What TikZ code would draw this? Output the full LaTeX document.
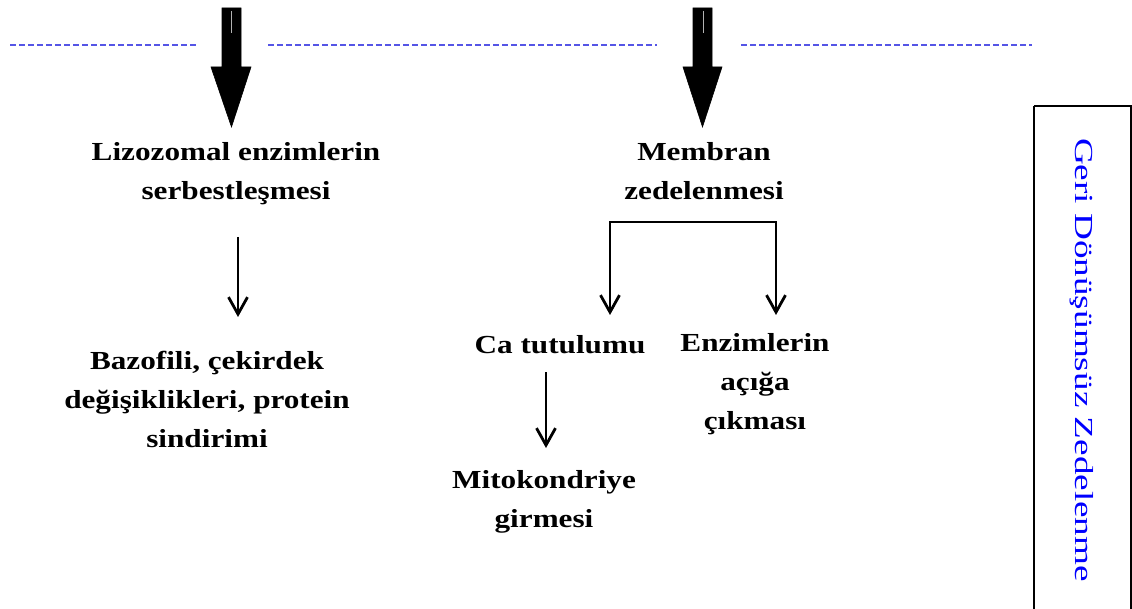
\documentclass[tikz,border=0pt]{standalone}
\usepackage{fontspec}
\setmainfont{Liberation Serif}
\newfontfamily\lblfont[FakeStretch=1.2]{Liberation Serif}
\newfontfamily\sidefont[FakeStretch=1.43]{Liberation Serif}
\usetikzlibrary{arrows.meta}
\definecolor{sepblue}{RGB}{85,85,230}
\definecolor{sideblue}{RGB}{0,0,255}
\begin{document}
\begin{tikzpicture}[x=1pt,y=-1pt,
  lbl/.style={font=\lblfont\bfseries\fontsize{26}{39}\selectfont, align=center, inner sep=0pt, anchor=base},
  thinarrow/.style={line width=2.8pt, -{Straight Barb[length=17pt,width=19pt,line width=2.8pt]}},
  bigarrow/.style={fill=black, draw=black, line width=0.6pt},
  sepline/.style={sepblue, line width=2pt, dash pattern=on 6pt off 3pt},
  sidebox/.style={draw=black, line width=2.6pt}]
\useasboundingbox (0,0) rectangle (1132,609);

% dashed separators
\draw[sepline] (10,45) -- (198,45);
\draw[sepline] (268,45) -- (657,45);
\draw[sepline] (741,45) -- (1032,45);

% block arrows
\draw[bigarrow] (222,8) -- (241,8) -- (241,67) -- (251,67) -- (231.5,127) -- (211,67) -- (222,67) -- cycle;
\draw[bigarrow] (693,8) -- (712,8) -- (712,67) -- (722,67) -- (702.5,127) -- (683,67) -- (693,67) -- cycle;
\draw[gray!60, line width=0.8pt] (231,11) -- (231,33);
\draw[gray!60, line width=0.8pt] (703,11) -- (703,33);

% labels (anchor = baseline of the last line)
\node[lbl] (liz) at (236,200) {Lizozomal enzimlerin\\serbestleşmesi};
\node[lbl] (baz) at (207,447) {Bazofili, çekirdek\\değişiklikleri, protein\\sindirimi};
\node[lbl] (mem) at (704,200) {Membran\\zedelenmesi};
\node[lbl] (ca) at (560,353) {Ca tutulumu};
\node[lbl] (enz) at (755,429) {Enzimlerin\\açığa\\çıkması};
\node[lbl] (mito) at (544,527) {Mitokondriye\\girmesi};

% connectors
\coordinate (lizA) at (238,237);
\coordinate (lizB) at (238,317);
\draw[thinarrow] (lizA) -- (lizB);

\coordinate (caA) at (546,372);
\coordinate (caB) at (546,448);
\draw[thinarrow] (caA) -- (caB);

\coordinate (brTL) at (610,222);
\coordinate (brTR) at (776,222);
\coordinate (brL) at (610,315);
\coordinate (brR) at (776,315);
\draw[thinarrow] (brTL) -- (brL);
\draw[thinarrow] (brTR) -- (brR);
\draw[line width=2.8pt, line cap=rect] (brTL) -- (brTR);

% side panel
\draw[sidebox] (1034,106) -- (1034,620);
\draw[sidebox] (1034,106) -- (1131,106) -- (1131,620);
\node[font=\sidefont\fontsize{26}{30}\selectfont, text=sideblue, rotate=-90, anchor=base, inner sep=0pt] (side) at (1075,360) {Geri Dönüşümsüz Zedelenme};
\end{tikzpicture}
\end{document}
